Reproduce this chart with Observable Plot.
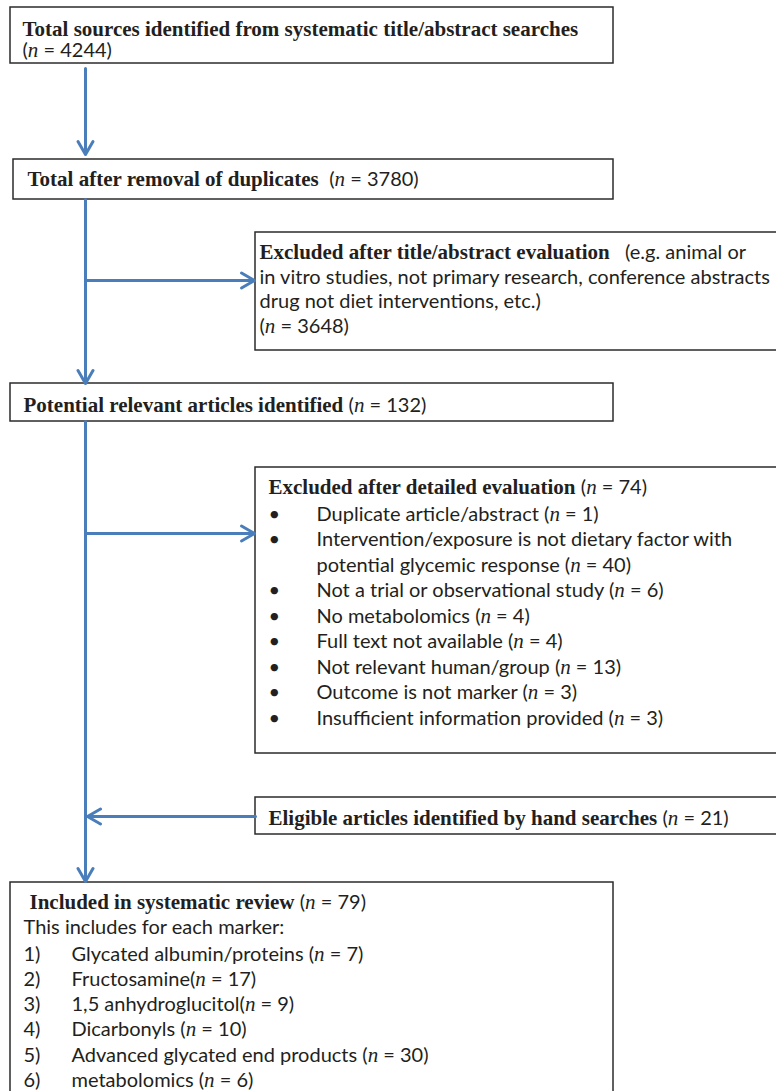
<!DOCTYPE html>
<html><head><meta charset="utf-8">
<script src="https://cdn.jsdelivr.net/npm/d3@7"></script>
<script src="https://cdn.jsdelivr.net/npm/@observablehq/plot@0.6"></script>
<style>
body{margin:0;background:#fff}
#chart svg{display:block}
#chart svg text{white-space:pre}
</style>
</head><body><div id="chart"></div>
<script>
// ---------- content ----------
const stageLabels = [
  "Total sources identified from systematic title/abstract searches",
  "Total after removal of duplicates",
  "Potential relevant articles identified",
  "Eligible articles identified by hand searches",
  "Included in systematic review"
];
const stageCounts = [4244, 3780, 132, 21, 79];

const titleExclusionLabel = "Excluded after title/abstract evaluation";
const titleExclusionNote = ["(e.g. animal or", "in vitro studies, not primary research, conference abstracts", "drug not diet interventions, etc.)"];
const titleExclusionCount = 3648;

const detailExclusionLabel = "Excluded after detailed evaluation";
const detailExclusionCount = 74;
const detailReasons = [
  ["Duplicate article/abstract "],
  ["Intervention/exposure is not dietary factor with", "potential glycemic response "],
  ["Not a trial or observational study "],
  ["No metabolomics "],
  ["Full text not available "],
  ["Not relevant human/group "],
  ["Outcome is not marker "],
  ["Insufficient information provided "]
];
const detailReasonCounts = [1, 40, 6, 4, 4, 13, 3, 3];

const markerIntro = "This includes for each marker:";
const markerNames = ["Glycated albumin/proteins ", "Fructosamine", "1,5 anhydroglucitol", "Dicarbonyls ", "Advanced glycated end products ", "metabolomics "];
const markerCounts = [7, 17, 9, 10, 30, 6];

// ---------- layout ----------
const W = 776, H = 1091;
const boxes = [
  {x1: 10, y1: 7, x2: 613, y2: 63},
  {x1: 13, y1: 159, x2: 613, y2: 199},
  {x1: 255, y1: 232, x2: 800, y2: 350},
  {x1: 10, y1: 383, x2: 613, y2: 421},
  {x1: 255, y1: 467, x2: 800, y2: 753},
  {x1: 255, y1: 797, x2: 800, y2: 834},
  {x1: 10, y1: 882, x2: 613, y2: 1120}
];
const arrows = [
  {x1: 85, y1: 68, x2: 85, y2: 154},
  {x1: 85, y1: 199, x2: 85, y2: 383},
  {x1: 85, y1: 280, x2: 254, y2: 280},
  {x1: 85, y1: 421, x2: 85, y2: 881},
  {x1: 85, y1: 533, x2: 254, y2: 533},
  {x1: 255, y1: 816, x2: 87, y2: 816}
];

const nSeg = c => [["(", "s"], ["n", "i"], [` = ${c})`, "s"]];
const lines = [];
lines.push({x: 22, y: 35, segs: [[stageLabels[0], "b"]]});
lines.push({x: 22, y: 56, segs: nSeg(stageCounts[0])});
lines.push({x: 27, y: 185, segs: [[stageLabels[1] + "  ", "b"], ...nSeg(stageCounts[1])]});
lines.push({x: 259, y: 258, segs: [[titleExclusionLabel, "b"], ["   " + titleExclusionNote[0], "s"]]});
lines.push({x: 259, y: 283, segs: [[titleExclusionNote[1], "s"]]});
lines.push({x: 259, y: 307, segs: [[titleExclusionNote[2], "s"]]});
lines.push({x: 259, y: 332, segs: nSeg(titleExclusionCount)});
lines.push({x: 23, y: 411, segs: [[stageLabels[2] + " ", "b"], ...nSeg(stageCounts[2])]});
lines.push({x: 268, y: 493, segs: [[detailExclusionLabel + " ", "b"], ...nSeg(detailExclusionCount)]});
let row = 0;
detailReasons.forEach((parts, i) => {
  parts.forEach((p, j) => {
    const y = 520 + 25.5 * row;
    if (j === 0) lines.push({x: 268, y, segs: [["•", "s"]]});
    const last = j === parts.length - 1;
    lines.push({x: 316, y, segs: last ? [[p, "s"], ...nSeg(detailReasonCounts[i])] : [[p, "s"]]});
    row++;
  });
});
lines.push({x: 268, y: 824, segs: [[stageLabels[3] + " ", "b"], ...nSeg(stageCounts[3])]});
lines.push({x: 29, y: 908, segs: [[stageLabels[4] + " ", "b"], ...nSeg(stageCounts[4])]});
lines.push({x: 23, y: 933, segs: [[markerIntro, "s"]]});
markerNames.forEach((m, i) => {
  const y = 960 + 25.3 * i;
  lines.push({x: 23, y, segs: [[`${i + 1})`, "s"]]});
  lines.push({x: 71, y, segs: [[m, "s"], ...nSeg(markerCounts[i])]});
});

const BLUE = "#4a7ebb";
const svg = Plot.plot({
  width: W, height: H, margin: 0,
  x: {domain: [0, W], range: [0, W], axis: null},
  y: {domain: [0, H], range: [0, H], axis: null},
  marks: [
    Plot.rect(boxes, {x1: "x1", y1: "y1", x2: "x2", y2: "y2", fill: "white", stroke: "#2b2b2b", strokeWidth: 1.5}),
    Plot.arrow(arrows, {x1: "x1", y1: "y1", x2: "x2", y2: "y2", stroke: BLUE, strokeWidth: 3, headLength: 7.5, headAngle: 60}),
    Plot.text(lines, {x: "x", y: "y", text: d => d.segs.map(s => s[0]).join(""), textAnchor: "start", fontSize: 18, fill: "#231f20"})
  ]
});

const NS = "http://www.w3.org/2000/svg";
const SANS = "Lato, 'Open Sans', sans-serif";
const SERIF = "'Liberation Serif', 'Times New Roman', serif";
const stripEm = el => {
  for (const a of ["dy", "y"]) {
    const v = el.getAttribute(a);
    if (v != null && /em$/.test(v)) el.removeAttribute(a);
  }
};
svg.querySelectorAll('g[aria-label="text"]').forEach(stripEm);
svg.querySelectorAll('g[aria-label="text"] text').forEach((t, i) => {
  const r = lines[i];
  stripEm(t);
  t.textContent = "";
  for (const [s, st] of r.segs) {
    const ts = document.createElementNS(NS, "tspan");
    ts.textContent = s;
    if (st === "b") { ts.setAttribute("font-family", SERIF); ts.setAttribute("font-weight", "bold"); ts.setAttribute("font-size", 21); }
    else if (st === "i") { ts.setAttribute("font-family", SERIF); ts.setAttribute("font-style", "italic"); ts.setAttribute("font-size", 21); }
    else { ts.setAttribute("font-family", SANS); ts.setAttribute("font-size", 20); }
    t.appendChild(ts);
  }
});
document.getElementById("chart").appendChild(svg);
</script>
</body></html>
